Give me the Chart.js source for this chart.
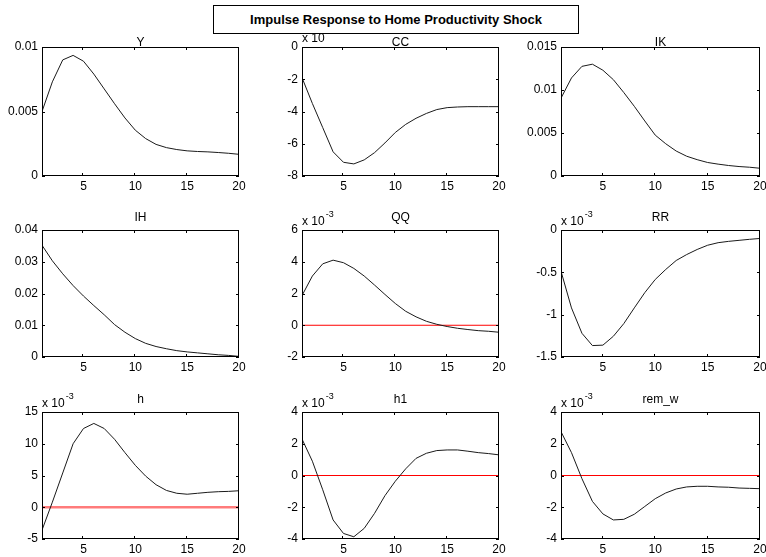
<!DOCTYPE html>
<html>
<head>
<meta charset="utf-8">
<title>Impulse Response to Home Productivity Shock</title>
<script src="https://cdn.jsdelivr.net/npm/chart.js"></script>
<style>
    body { margin: 0; background: #fff; }
    #page { position: relative; width: 766px; height: 557px; overflow: hidden; background: #fff; }
    #main-title {
        position: absolute; left: 213px; top: 5px; width: 364px; height: 27px;
        border: 1px solid #000; background: #fff; z-index: 2;
        font: bold 13px 'Liberation Sans', Arial, sans-serif; line-height: 27px; text-align: center; color: #000;
    }
    canvas { position: absolute; }
</style>
</head>
<body>
<div id="page">
    <div id="main-title">Impulse Response to Home Productivity Shock</div>
</div>
<script>
// horizon (quarters after the shock)
const periods = [1, 2, 3, 4, 5, 6, 7, 8, 9, 10, 11, 12, 13, 14, 15, 16, 17, 18, 19, 20];
const xTicks = [5, 10, 15, 20];

// responses (panels marked "x 10^-3" are in those units)
const yResp = [0.0050, 0.0073, 0.0090, 0.00935, 0.0089, 0.0079, 0.00675, 0.0056, 0.0045, 0.00355, 0.0029, 0.00245, 0.0022, 0.00205, 0.00195, 0.0019, 0.00187, 0.00182, 0.00176, 0.00168];
const ccResp = [-1.9, -3.5, -5.0, -6.5, -7.15, -7.25, -7.0, -6.55, -5.95, -5.3, -4.8, -4.42, -4.12, -3.88, -3.76, -3.72, -3.7, -3.7, -3.7, -3.7];
const ikResp = [0.00905, 0.0114, 0.01275, 0.0130, 0.0123, 0.0112, 0.0097, 0.0081, 0.0064, 0.00475, 0.00375, 0.0029, 0.0023, 0.0019, 0.00157, 0.00138, 0.00122, 0.0011, 0.00102, 0.0009];
const ihResp = [0.0352, 0.0303, 0.0262, 0.0225, 0.0192, 0.0162, 0.0133, 0.0102, 0.0078, 0.0058, 0.0043, 0.0033, 0.0026, 0.002, 0.0016, 0.0013, 0.001, 0.0007, 0.0005, 0.0002];
const qqResp = [1.87, 3.1, 3.87, 4.1, 3.94, 3.58, 3.1, 2.53, 1.94, 1.37, 0.88, 0.53, 0.25, 0.06, -0.08, -0.19, -0.27, -0.34, -0.38, -0.44];
const rrResp = [-0.487, -0.92, -1.22, -1.365, -1.36, -1.255, -1.105, -0.92, -0.74, -0.584, -0.466, -0.36, -0.29, -0.23, -0.18, -0.15, -0.134, -0.122, -0.11, -0.10];
const hResp = [-3.6, 0.8, 5.4, 10.0, 12.4, 13.2, 12.4, 10.7, 8.6, 6.6, 4.9, 3.55, 2.65, 2.2, 2.05, 2.2, 2.35, 2.45, 2.5, 2.6];
const h1Resp = [2.3, 0.9, -0.9, -2.8, -3.65, -3.86, -3.33, -2.38, -1.27, -0.36, 0.42, 1.08, 1.4, 1.57, 1.61, 1.61, 1.53, 1.44, 1.38, 1.3];
const remwResp = [2.76, 1.44, -0.2, -1.63, -2.42, -2.8, -2.76, -2.44, -1.95, -1.46, -1.1, -0.85, -0.72, -0.68, -0.68, -0.72, -0.74, -0.79, -0.81, -0.83];

// y tick labels of each panel
const yTicksY = [0, 0.005, 0.01];
const yTicksCC = [-8, -6, -4, -2, 0];
const yTicksIK = [0, 0.005, 0.01, 0.015];
const yTicksIH = [0, 0.01, 0.02, 0.03, 0.04];
const yTicksQQ = [-2, 0, 2, 4, 6];
const yTicksRR = [-1.5, -1, -0.5, 0];
const yTicksH = [-5, 0, 5, 10, 15];
const yTicksH1 = [-4, -2, 0, 2, 4];
const yTicksRemw = [-4, -2, 0, 2, 4];

const zeroLine = [{ x: 1, y: 0 }, { x: 20, y: 0 }];

const panels = [
    { name: 'Y', data: yResp, ticks: yTicksY, exp: false, zero: null },
    { name: 'CC', data: ccResp, ticks: yTicksCC, exp: true, zero: null },
    { name: 'IK', data: ikResp, ticks: yTicksIK, exp: false, zero: null },
    { name: 'IH', data: ihResp, ticks: yTicksIH, exp: false, zero: null },
    { name: 'QQ', data: qqResp, ticks: yTicksQQ, exp: true, zero: 'thin' },
    { name: 'RR', data: rrResp, ticks: yTicksRR, exp: true, zero: null },
    { name: 'h', data: hResp, ticks: yTicksH, exp: true, zero: 'thick' },
    { name: 'h1', data: h1Resp, ticks: yTicksH1, exp: true, zero: 'thin' },
    { name: 'rem_w', data: remwResp, ticks: yTicksRemw, exp: true, zero: 'thin' },
];

// subplot axes boxes (pixels on the page)
const colBox = [{ l: 42, r: 239 }, { l: 302, r: 499 }, { l: 561, r: 760 }];
const rowBox = [{ t: 47, b: 176, gap: 1 }, { t: 230, b: 357, gap: 9 }, { t: 412, b: 539, gap: 9 }];
const FONT = "'Liberation Sans', Arial, sans-serif";
const LEFT = 42, TOP = 26, BOTTOM = 18, RIGHT = 7;

Chart.defaults.font.family = FONT;
Chart.defaults.font.size = 12;
Chart.defaults.color = '#000';

// matlab-like box with inward ticks, subplot title and exponent label
const frame = {
    id: 'frame',
    afterDatasetsDraw(chart, args, opts) {
        const { ctx, chartArea: a, scales: { x, y } } = chart;
        ctx.save();
        ctx.strokeStyle = '#000';
        ctx.lineWidth = 1;
        ctx.strokeRect(a.left + 0.5, a.top + 0.5, a.right - a.left - 1, a.bottom - a.top - 1);
        ctx.beginPath();
        x.ticks.forEach(t => {
            const px = Math.round(x.getPixelForValue(t.value)) - 0.5;
            ctx.moveTo(px, a.bottom); ctx.lineTo(px, a.bottom - 3);
            ctx.moveTo(px, a.top); ctx.lineTo(px, a.top + 3);
        });
        y.ticks.forEach(t => {
            const py = Math.round(y.getPixelForValue(t.value)) + 0.5;
            ctx.moveTo(a.left, py); ctx.lineTo(a.left + 3, py);
            ctx.moveTo(a.right, py); ctx.lineTo(a.right - 3, py);
        });
        ctx.stroke();
        ctx.fillStyle = '#000';
        ctx.font = '12px ' + FONT;
        ctx.textBaseline = 'alphabetic';
        ctx.textAlign = 'center';
        ctx.fillText(opts.title, (a.left + a.right) / 2, a.top - opts.gap);
        if (opts.exp) {
            ctx.textAlign = 'left';
            ctx.fillText('x 10', a.left, a.top - 5);
            const w = ctx.measureText('x 10').width;
            ctx.font = '9px ' + FONT;
            ctx.fillText('-3', a.left + w + 1, a.top - 13);
        }
        ctx.restore();
    }
};

const page = document.getElementById('page');

panels.forEach((p, i) => {
    const col = colBox[i % 3], row = rowBox[Math.floor(i / 3)];
    const left = col.l - LEFT, top = row.t - TOP;
    const width = Math.min(col.r + RIGHT, 766) - left;
    const height = row.b + BOTTOM - top;
    const canvas = document.createElement('canvas');
    canvas.width = width; canvas.height = height;
    canvas.style.left = left + 'px'; canvas.style.top = top + 'px';
    canvas.style.width = width + 'px'; canvas.style.height = height + 'px';
    page.appendChild(canvas);

    const datasets = [];
    if (p.zero) {
        datasets.push({
            data: zeroLine,
            borderColor: p.zero === 'thick' ? 'rgba(255,90,90,0.8)' : '#ff0000',
            borderWidth: p.zero === 'thick' ? 2.5 : 1,
            pointRadius: 0,
            order: 1,
        });
    }
    datasets.push({
        data: periods.map((t, k) => ({ x: t, y: p.data[k] })),
        borderColor: '#1a1a1a',
        borderWidth: 1,
        pointRadius: 0,
        tension: 0,
        order: 0,
    });

    new Chart(canvas, {
        type: 'line',
        data: { datasets },
        plugins: [frame],
        options: {
            responsive: false,
            animation: false,
            events: [],
            layout: { padding: { top: TOP, right: width - (col.r - left), left: 0, bottom: 0 } },
            plugins: {
                legend: { display: false },
                tooltip: { enabled: false },
                frame: { title: p.name, exp: p.exp, gap: row.gap },
            },
            scales: {
                x: {
                    type: 'linear',
                    min: 1,
                    max: 20,
                    afterBuildTicks: s => { s.ticks = xTicks.map(v => ({ value: v })); },
                    afterFit: s => { s.height = BOTTOM; s.paddingLeft = 0; s.paddingRight = 0; },
                    grid: { display: false, drawTicks: false },
                    border: { display: false },
                    ticks: { padding: 3, maxRotation: 0, autoSkip: false, color: '#000' },
                },
                y: {
                    min: p.ticks[0],
                    max: p.ticks[p.ticks.length - 1],
                    afterBuildTicks: s => { s.ticks = p.ticks.map(v => ({ value: v })); },
                    afterFit: s => { s.width = LEFT; s.paddingTop = 0; s.paddingBottom = 0; },
                    grid: { display: false, drawTicks: false },
                    border: { display: false },
                    ticks: { padding: 4, color: '#000', callback: v => String(v) },
                },
            },
        },
    });
});
</script>
</body>
</html>
